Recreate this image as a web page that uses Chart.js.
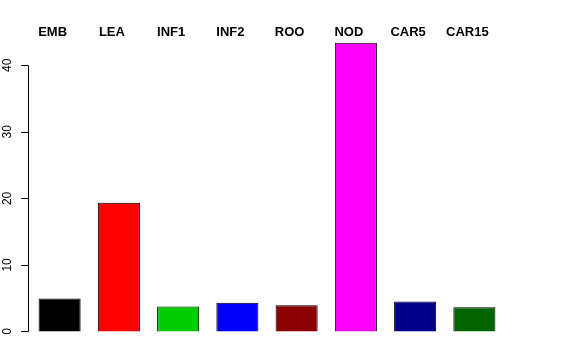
<!DOCTYPE html>
<html>
<head>
<meta charset="utf-8">
<script src="https://cdn.jsdelivr.net/npm/chart.js@4.4.0/dist/chart.umd.min.js"></script>
<style>
  html, body { margin: 0; padding: 0; background: #fff; }
  #wrap { width: 576px; height: 360px; }
</style>
</head>
<body>
<div id="wrap"><canvas id="chart"></canvas></div>
<script>
const categories = ['EMB', 'LEA', 'INF1', 'INF2', 'ROO', 'NOD', 'CAR5', 'CAR15'];
const values = [4.95, 19.35, 3.75, 4.3, 3.95, 43.4, 4.5, 3.65];
const barColors = ['#000000', '#ff0000', '#00cd00', '#0000ff', '#8b0000', '#ff00ff', '#00008b', '#006400'];
const yTicks = [0, 10, 20, 30, 40];

// R style axis: line only from first to last tick, rotated labels, names on top
const rAxes = {
    id: 'rAxes',
    afterDraw(chart) {
        const ctx = chart.ctx;
        const x = chart.scales.x;
        const y = chart.scales.y;
        const axisX = chart.chartArea.left - 2;

        ctx.save();
        ctx.strokeStyle = '#000';
        ctx.lineWidth = 1;
        ctx.beginPath();
        ctx.moveTo(axisX + 0.5, Math.round(y.getPixelForValue(yTicks[0])) + 0.5);
        ctx.lineTo(axisX + 0.5, Math.round(y.getPixelForValue(yTicks[yTicks.length - 1])) + 0.5);
        yTicks.forEach(t => {
            const py = Math.round(y.getPixelForValue(t)) + 0.5;
            ctx.moveTo(axisX + 0.5, py);
            ctx.lineTo(axisX - 7, py);
        });
        ctx.stroke();

        ctx.fillStyle = '#000';
        ctx.font = '12px "Liberation Sans", Arial, sans-serif';
        ctx.textAlign = 'center';
        ctx.textBaseline = 'middle';
        yTicks.forEach(t => {
            ctx.save();
            ctx.translate(8, y.getPixelForValue(t));
            ctx.rotate(-Math.PI / 2);
            ctx.fillText(String(t), 0, 0);
            ctx.restore();
        });

        ctx.font = 'bold 13px "Liberation Sans", Arial, sans-serif';
        categories.forEach((c, i) => {
            ctx.fillText(c, x.getPixelForValue(i) - 7, 32);
        });
        ctx.restore();
    }
};

new Chart(document.getElementById('chart'), {
    type: 'bar',
    data: {
        labels: categories,
        datasets: [{
            data: values,
            backgroundColor: barColors,
            borderColor: '#000000',
            borderWidth: 1,
            barPercentage: 0.71,
            categoryPercentage: 1.0
        }]
    },
    options: {
        responsive: true,
        maintainAspectRatio: false,
        animation: false,
        layout: { padding: { left: 30, right: 72, top: 31, bottom: 14 } },
        plugins: { legend: { display: false }, tooltip: { enabled: false } },
        scales: {
            x: { display: false },
            y: { display: false, min: -2.19, max: 45.16 }
        }
    },
    plugins: [rAxes]
});
</script>
</body>
</html>
